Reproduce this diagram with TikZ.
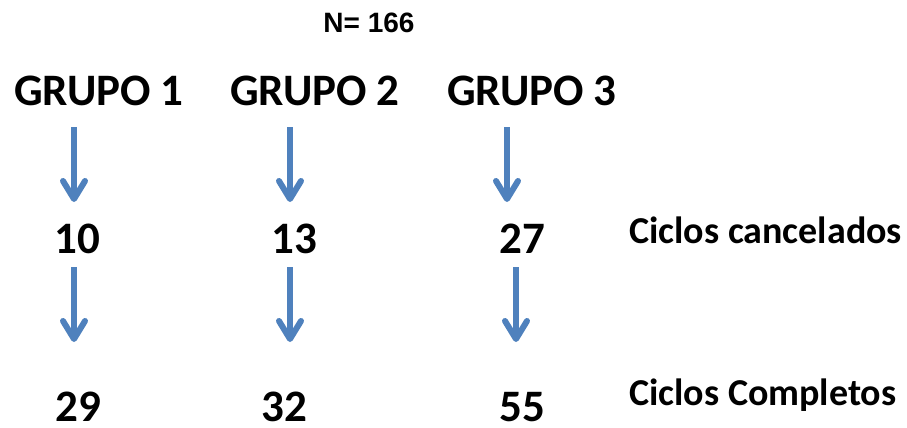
\documentclass[tikz,border=0pt]{standalone}
\usepackage{fontspec}
\setmainfont{Carlito}
\newfontfamily\arialfont{Liberation Sans}
\usetikzlibrary{arrows.meta}
\definecolor{arrowblue}{HTML}{4F81BD}
\tikzset{
  big/.style={inner sep=0pt, anchor=base, font=\fontsize{45}{50}\selectfont\bfseries},
  num/.style={inner sep=0pt, anchor=base, font=\fontsize{45}{50}\selectfont\bfseries},
  lbl/.style={inner sep=0pt, anchor=base west, font=\fontsize{38}{42}\selectfont\bfseries},
  ntext/.style={inner sep=0pt, anchor=base, font=\fontsize{28}{32}\selectfont\arialfont\bfseries},
  flow/.style={draw=arrowblue, line width=6pt, -{Straight Barb[length=18pt, width=22pt, round]}}
}
\begin{document}
\begin{tikzpicture}[x=1pt,y=-1pt]
\useasboundingbox (0,0) rectangle (907,428);
\node[ntext] (n) at (369,33) {N= 166};
\node[big] (g1) at (99,105) {GRUPO 1};
\node[big] (g2) at (315,105) {GRUPO 2};
\node[big] (g3) at (532,105) {GRUPO 3};
\node[num] (c1) at (77.5,253) {10};
\node[num] (c2) at (294,253) {13};
\node[num] (c3) at (522,253) {27};
\node[lbl] (lc) at (629,243) {Ciclos cancelados};
\node[num] (f1) at (78,421) {29};
\node[num] (f2) at (284,421) {32};
\node[num] (f3) at (522,421) {55};
\node[lbl] (lf) at (629,405) {Ciclos Completos};
\coordinate (a1s) at (74,127);  \coordinate (a1e) at (74,202);
\coordinate (a2s) at (290,127); \coordinate (a2e) at (290,202);
\coordinate (a3s) at (507,127); \coordinate (a3e) at (507,202);
\coordinate (b1s) at (74,267);  \coordinate (b1e) at (74,342);
\coordinate (b2s) at (290,267); \coordinate (b2e) at (290,342);
\coordinate (b3s) at (516,267); \coordinate (b3e) at (516,342);
\draw[flow] (a1s) -- (a1e);
\draw[flow] (a2s) -- (a2e);
\draw[flow] (a3s) -- (a3e);
\draw[flow] (b1s) -- (b1e);
\draw[flow] (b2s) -- (b2e);
\draw[flow] (b3s) -- (b3e);
\end{tikzpicture}
\end{document}
